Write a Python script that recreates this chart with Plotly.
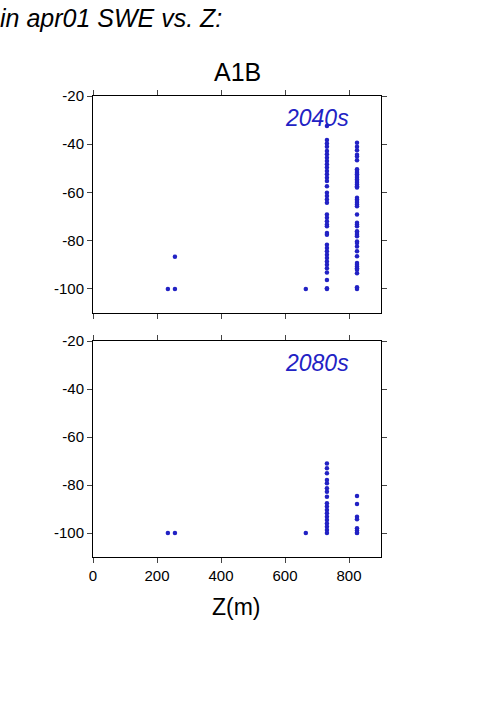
import plotly.graph_objects as go

# ---- data ----
panel_labels = ["2040s", "2080s"]
site_z = [234, 256, 665, 731, 825]

pct_2040s_site1 = [-100]
pct_2040s_site2 = [-100, -86.7]
pct_2040s_site3 = [-100]
pct_2040s_site4 = [-32.4, -38.3, -39.7, -41.1, -42.8, -44.2, -45.6, -47.0, -48.3, -49.7,
                   -51.1, -52.5, -53.9, -55.3, -57.4, -60.1, -61.5, -62.9, -64.3, -69.2,
                   -70.5, -72.0, -73.3, -74.0, -76.8, -77.5, -81.7, -83.0, -84.4, -85.8,
                   -87.2, -88.6, -90.0, -91.4, -93.2, -96.3, -99.7, -100]
pct_2040s_site5 = [-39.4, -41.0, -42.5, -44.4, -45.1, -46.7, -50.4, -51.1, -51.8, -52.5,
                   -53.2, -53.9, -54.6, -55.3, -56.0, -56.7, -57.4, -58.0, -62.2, -62.9,
                   -63.6, -64.3, -65.0, -65.7, -69.2, -72.6, -73.3, -74.0, -76.1, -76.8,
                   -77.5, -78.2, -80.3, -81.0, -82.4, -84.4, -86.5, -89.3, -90.0, -90.7,
                   -91.4, -92.1, -93.5, -99.3, -100]

pct_2080s_site1 = [-100]
pct_2080s_site2 = [-100]
pct_2080s_site3 = [-100]
pct_2080s_site4 = [-71.0, -73.0, -75.1, -77.9, -79.3, -81.4, -82.8, -84.9, -87.6, -89.0,
                   -90.4, -91.8, -93.2, -94.6, -96.0, -97.4, -98.8, -100]
pct_2080s_site5 = [-84.6, -87.9, -93.2, -94.3, -98.0, -99.0, -99.9, -100]

x_ticks = [0, 200, 400, 600, 800]
y_ticks = [-20, -40, -60, -80, -100]
y_tick_text = ["-20", "-40", "-60", "-80", "-100"]

panels = [
    [pct_2040s_site1, pct_2040s_site2, pct_2040s_site3, pct_2040s_site4, pct_2040s_site5],
    [pct_2080s_site1, pct_2080s_site2, pct_2080s_site3, pct_2080s_site4, pct_2080s_site5],
]

BLUE = "#2222c4"
FONT = "Liberation Sans"

fig = go.Figure()
for i, sites in enumerate(panels):
    xs, ys = [], []
    for z, vals in zip(site_z, sites):
        xs += [z] * len(vals)
        ys += vals
    suffix = "" if i == 0 else "2"
    fig.add_trace(go.Scatter(
        x=xs, y=ys, mode="markers",
        marker=dict(size=4.5, color=BLUE),
        xaxis="x" + suffix, yaxis="y" + suffix, showlegend=False,
        hoverinfo="skip",
    ))
    fig.add_annotation(
        x=700, y=-29.0, xref="x" + suffix, yref="y" + suffix,
        text="<i>%s</i>" % panel_labels[i], showarrow=False,
        font=dict(family=FONT, size=23, color=BLUE),
        xanchor="center", yanchor="middle",
    )

axis_common = dict(
    showline=True, linecolor="black", linewidth=1, mirror="ticks",
    ticks="outside", ticklen=5, tickcolor="#444", showgrid=False, zeroline=False,
    tickfont=dict(family=FONT, size=15, color="black"),
)

fig.update_layout(
    width=501, height=709,
    margin=dict(l=93, r=120, t=96, b=152),
    paper_bgcolor="white", plot_bgcolor="white",
    font=dict(family=FONT, color="black"),
    xaxis=dict(axis_common, range=[0, 900], tickvals=x_ticks, showticklabels=False,
               domain=[0, 1], anchor="y"),
    yaxis=dict(axis_common, range=[-110, -20], tickvals=y_ticks, ticktext=y_tick_text,
               domain=[0.5293, 1], anchor="x"),
    xaxis2=dict(axis_common, range=[0, 900], tickvals=x_ticks, domain=[0, 1], anchor="y2"),
    yaxis2=dict(axis_common, range=[-110, -20], tickvals=y_ticks, ticktext=y_tick_text,
                domain=[0, 0.4685], anchor="x2"),
)

# Title texts (positioned in paper coords)
H = 461.0
W = 288.0
def py(p):
    return (557 - p) / H
def px(p):
    return (p - 93) / W

fig.add_annotation(x=px(237.5), y=py(71.5), xref="paper", yref="paper", text="A1B",
                   showarrow=False, font=dict(family=FONT, size=25),
                   xanchor="center", yanchor="middle")
fig.add_annotation(x=px(-2), y=py(18), xref="paper", yref="paper",
                   text="<i>in apr01 SWE vs. Z:</i>", showarrow=False,
                   font=dict(family=FONT, size=25), xanchor="left", yanchor="middle")
fig.add_annotation(x=px(236), y=py(607), xref="paper", yref="paper", text="Z(m)",
                   showarrow=False, font=dict(family=FONT, size=23),
                   xanchor="center", yanchor="middle")

fig.write_html("out.html",
               config={"displayModeBar": False},
               post_script="document.body.style.margin='0';document.body.style.padding='0';")
